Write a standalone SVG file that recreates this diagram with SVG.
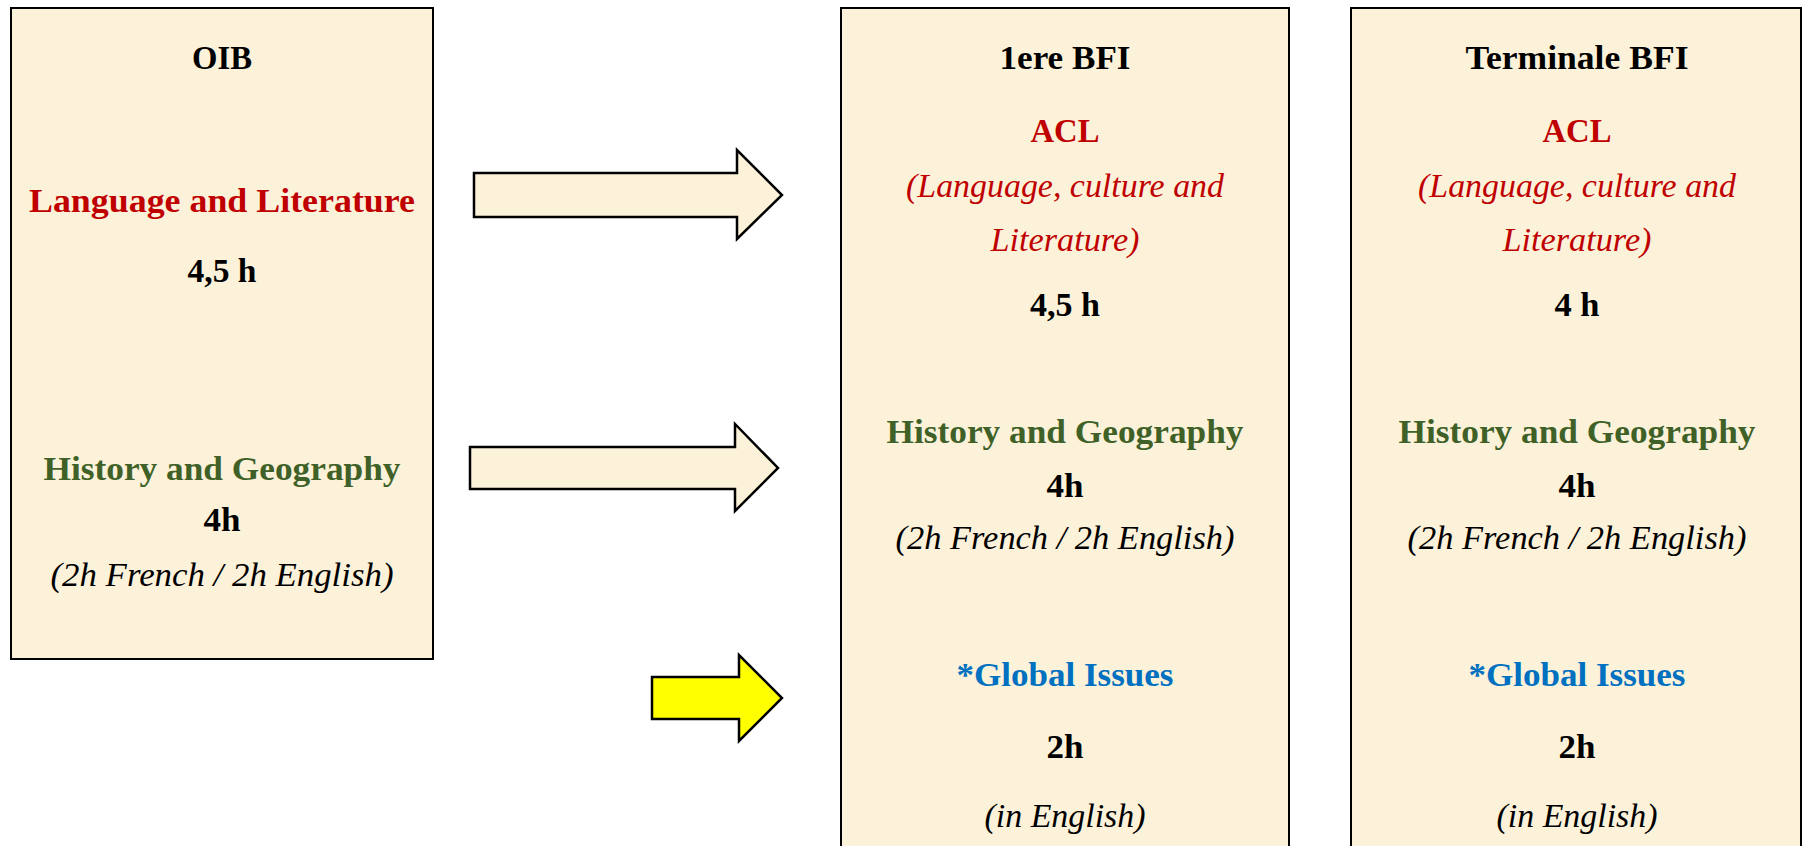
<svg xmlns="http://www.w3.org/2000/svg" width="1805" height="846" viewBox="0 0 1805 846">
<style>
.box{fill:#fcf2da;stroke:#000;stroke-width:2}
.arr{fill:#fcf2da;stroke:#000;stroke-width:2.5;stroke-linejoin:miter}
.arr.y{fill:#ffff00}
text{font-family:"Liberation Serif","Times New Roman",serif;font-size:33px;text-anchor:middle}
.b{font-weight:bold}
.i{font-style:italic}
.k{fill:#000}
.r{fill:#c00000}
.g{fill:#3f6127}
.bl{fill:#0070c0}
</style>
<rect width="1805" height="846" fill="#ffffff"/>
<g id="node-oib">
<rect class="box" x="11" y="8" width="422" height="651"/>
<text class="b k" x="222" y="69" textLength="60" lengthAdjust="spacingAndGlyphs">OIB</text>
<text class="b r" x="222" y="212" textLength="386" lengthAdjust="spacingAndGlyphs">Language and Literature</text>
<text class="b k" x="222" y="282" textLength="69" lengthAdjust="spacingAndGlyphs">4,5 h</text>
<text class="b g" x="222" y="480" textLength="357" lengthAdjust="spacingAndGlyphs">History and Geography</text>
<text class="b k" x="222" y="531" textLength="37" lengthAdjust="spacingAndGlyphs">4h</text>
<text class="i k" x="222" y="586" textLength="343" lengthAdjust="spacingAndGlyphs">(2h French / 2h English)</text>
</g>
<g id="node-1ere">
<rect class="box" x="841" y="8" width="448" height="850"/>
<text class="b k" x="1065" y="69" textLength="131" lengthAdjust="spacingAndGlyphs">1ere BFI</text>
<text class="b r" x="1065" y="142" textLength="69" lengthAdjust="spacingAndGlyphs">ACL</text>
<text class="i r" x="1065" y="197" textLength="318" lengthAdjust="spacingAndGlyphs">(Language, culture and</text>
<text class="i r" x="1065" y="251" textLength="149" lengthAdjust="spacingAndGlyphs">Literature)</text>
<text class="b k" x="1065" y="316" textLength="70" lengthAdjust="spacingAndGlyphs">4,5 h</text>
<text class="b g" x="1065" y="443" textLength="357" lengthAdjust="spacingAndGlyphs">History and Geography</text>
<text class="b k" x="1065" y="497" textLength="37" lengthAdjust="spacingAndGlyphs">4h</text>
<text class="i k" x="1065" y="549" textLength="339" lengthAdjust="spacingAndGlyphs">(2h French / 2h English)</text>
<text class="b bl" x="1065" y="686" textLength="217" lengthAdjust="spacingAndGlyphs">*Global Issues</text>
<text class="b k" x="1065" y="758" textLength="37" lengthAdjust="spacingAndGlyphs">2h</text>
<text class="i k" x="1065" y="827" textLength="161" lengthAdjust="spacingAndGlyphs">(in English)</text>
</g>
<g id="node-terminale">
<rect class="box" x="1351" y="8" width="450" height="850"/>
<text class="b k" x="1577" y="69" textLength="223" lengthAdjust="spacingAndGlyphs">Terminale BFI</text>
<text class="b r" x="1577" y="142" textLength="69" lengthAdjust="spacingAndGlyphs">ACL</text>
<text class="i r" x="1577" y="197" textLength="318" lengthAdjust="spacingAndGlyphs">(Language, culture and</text>
<text class="i r" x="1577" y="251" textLength="149" lengthAdjust="spacingAndGlyphs">Literature)</text>
<text class="b k" x="1577" y="316" textLength="45" lengthAdjust="spacingAndGlyphs">4 h</text>
<text class="b g" x="1577" y="443" textLength="357" lengthAdjust="spacingAndGlyphs">History and Geography</text>
<text class="b k" x="1577" y="497" textLength="37" lengthAdjust="spacingAndGlyphs">4h</text>
<text class="i k" x="1577" y="549" textLength="339" lengthAdjust="spacingAndGlyphs">(2h French / 2h English)</text>
<text class="b bl" x="1577" y="686" textLength="217" lengthAdjust="spacingAndGlyphs">*Global Issues</text>
<text class="b k" x="1577" y="758" textLength="37" lengthAdjust="spacingAndGlyphs">2h</text>
<text class="i k" x="1577" y="827" textLength="161" lengthAdjust="spacingAndGlyphs">(in English)</text>
</g>
<g id="connectors">
<polygon class="arr" points="474,173 737,173 737,150 782,195 737,239 737,217 474,217"/>
<polygon class="arr" points="470,447 735,447 735,424 778,468 735,511 735,489 470,489"/>
<polygon class="arr y" points="652,677 739,677 739,655 782,698 739,741 739,719 652,719"/>
</g>
</svg>
